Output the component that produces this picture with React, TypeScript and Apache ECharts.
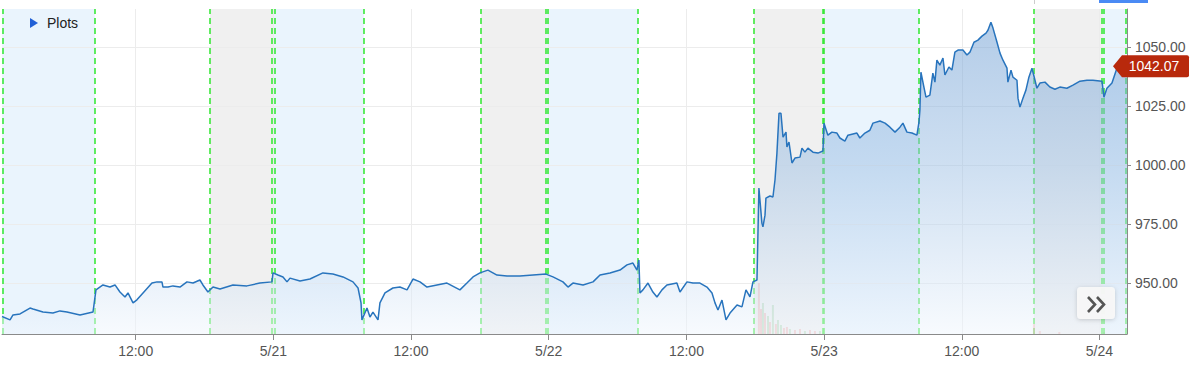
import React, { useEffect, useRef } from 'react';
import * as echarts from 'echarts';

// time in hours from 5/20 00:00
const priceHours = [
  0.35, 1.05, 1.31, 1.92, 2.79, 3.05, 3.92, 4.79, 5.4, 6.01, 7.15, 8.28, 8.54, 9.15, 9.76, 10.2, 10.63, 11.07, 11.33, 11.77,
  12.11, 12.64, 13.42, 13.86, 14.29, 14.38, 14.82, 15.25, 15.86, 16.47, 17.0, 17.6, 17.86, 18.3, 18.74, 19.35, 20.48, 21.7, 22.83, 23.88,
  23.97, 24.4, 24.84, 25.19, 25.45, 26.32, 27.19, 28.32, 29.19, 30.07, 30.94, 31.38, 31.64, 31.72, 32.16, 32.42, 32.68, 33.12, 33.29, 33.73,
  34.42, 35.03, 35.65, 36.17, 36.78, 37.39, 38.26, 39.13, 40.26, 40.87, 41.4, 42.01, 42.7, 43.49, 44.36, 45.49, 46.63, 47.76, 48.37, 49.24,
  49.68, 50.11, 50.99, 51.86, 52.47, 53.34, 54.21, 54.82, 55.34, 55.69, 55.86, 55.95, 56.21, 56.65, 57.08, 57.43, 57.87, 58.3, 59.17, 59.44,
  60.05, 60.57, 61.18, 61.79, 62.23, 62.49, 62.75, 63.1, 63.45, 63.8, 64.41, 64.84, 65.19, 65.54, 65.8, 66.15, 66.32, 66.58, 66.67, 66.85,
  66.93, 67.28, 67.54, 67.72, 67.89, 68.07, 68.24, 68.42, 68.68, 68.76, 68.94, 69.2, 69.46, 69.9, 70.07, 70.33, 70.59, 71.03, 71.46, 71.9,
  71.99, 72.33, 72.68, 73.12, 73.38, 73.81, 74.08, 74.86, 75.12, 75.56, 75.99, 76.26, 76.87, 77.31, 77.74, 78.18, 78.61, 78.87, 79.22, 79.66,
  80.09, 80.27, 80.35, 80.44, 80.7, 80.88, 81.22, 81.48, 81.66, 81.83, 82.09, 82.36, 82.53, 82.88, 83.14, 83.4, 83.67, 84.1, 84.45, 84.71,
  85.06, 85.41, 85.76, 86.11, 86.28, 86.54, 86.72, 87.07, 87.33, 87.59, 87.94, 88.02, 88.29, 88.46, 88.81, 88.9, 89.07, 89.33, 89.59, 89.85,
  90.12, 90.38, 90.55, 90.81, 91.25, 91.68, 92.12, 92.55, 93.16, 93.69, 94.3, 94.91, 95.43, 96.22, 96.39, 96.65, 97.09, 97.52, 97.78, 98.13,
  98.4,
];
const priceValues = [
  935.9, 934.5, 936.6, 937.0, 939.5, 939.1, 937.8, 937.4, 938.3, 937.8, 936.6, 937.8, 947.2, 949.3, 948.4, 949.3, 946.3, 944.2, 945.9, 941.7,
  943.0, 945.9, 950.1, 950.6, 950.6, 948.4, 948.4, 948.9, 948.4, 950.6, 950.1, 951.4, 949.3, 946.3, 948.4, 947.6, 949.3, 948.9, 950.1, 950.6,
  954.4, 953.5, 952.7, 950.6, 952.2, 951.0, 951.8, 954.4, 953.9, 952.7, 950.6, 948.0, 941.7, 934.5, 939.5, 935.7, 937.8, 934.5, 941.7, 945.9,
  948.0, 948.4, 947.2, 951.8, 950.6, 948.4, 949.3, 950.1, 947.2, 950.1, 952.7, 954.4, 955.6, 953.5, 953.1, 953.1, 953.5, 953.9, 952.7, 950.6,
  948.4, 950.1, 949.3, 950.6, 953.5, 954.4, 955.6, 957.8, 958.6, 955.6, 959.9, 945.9, 947.2, 950.1, 946.3, 944.2, 947.2, 949.3, 950.1, 946.3,
  950.6, 950.1, 950.1, 948.4, 945.9, 941.7, 938.7, 942.9, 934.5, 937.4, 940.8, 940.0, 947.2, 944.2, 950.6, 951.4, 990.4, 975.5, 973.9, 978.9,
  986.1, 987.0, 986.6, 993.8, 1005.2, 1022.1, 1022.1, 1012.0, 1014.1, 1007.8, 1009.9, 1001.0, 1003.1, 1003.5, 1007.3, 1005.6, 1007.3, 1005.6, 1005.2, 1006.1,
  1017.9, 1012.8, 1014.1, 1013.7, 1011.6, 1010.3, 1012.8, 1013.7, 1011.6, 1013.7, 1014.9, 1017.9, 1018.8, 1017.9, 1016.2, 1014.1, 1016.2, 1017.9, 1014.1, 1013.7,
  1012.8, 1018.3, 1023.4, 1039.5, 1033.2, 1028.9, 1029.8, 1039.1, 1035.3, 1044.6, 1042.5, 1045.5, 1038.3, 1041.7, 1040.4, 1048.0, 1048.9, 1048.9, 1046.8, 1048.0,
  1052.2, 1053.1, 1054.8, 1056.1, 1057.3, 1060.7, 1058.2, 1052.2, 1047.6, 1044.6, 1041.2, 1035.3, 1040.4, 1037.4, 1036.1, 1028.5, 1024.7, 1028.5, 1031.9, 1037.4,
  1041.2, 1036.1, 1032.7, 1034.9, 1035.3, 1033.2, 1032.3, 1033.2, 1032.7, 1034.0, 1035.7, 1036.1, 1036.1, 1035.7, 1028.9, 1032.7, 1034.9, 1041.2, 1039.5, 1041.2,
  1042.07,
];

const volumeHours = [66.32, 66.5, 66.67, 66.85, 67.11, 67.28, 67.54, 67.8, 67.98, 68.24, 68.5, 68.76, 69.02, 69.46, 69.9, 70.33, 70.77, 71.2, 71.64, 90.29, 90.8, 92.5, 96.4];
const volumeValues = [5.1, 2.5, 3.1, 2.1, 1.8, 1.2, 2.9, 1.0, 1.4, 0.9, 0.6, 0.7, 0.5, 0.4, 0.5, 0.3, 0.4, 0.3, 0.3, 1.0, 0.3, 0.2, 0.2];
const volumeUp = [false, false, true, false, true, false, true, false, true, true, false, false, true, false, false, true, false, false, true, false, false, false, true];

const tickHours = [12, 24, 36, 48, 60, 72, 84, 96];
const tickLabels = ['12:00', '5/21', '12:00', '5/22', '12:00', '5/23', '12:00', '5/24'];
const yTicks = [950, 975, 1000, 1025, 1050];

const sessionLines = [0.44, 8.45, 18.48, 23.88, 24.08, 31.9, 42.1, 47.7, 47.88, 55.78, 65.89, 71.86, 72.0, 80.27, 90.29, 96.24, 96.38, 98.33];
const blueBands = [[0.35, 8.45], [23.97, 31.9], [47.76, 55.78], [71.9, 80.27], [96.3, 98.4]];
const grayBands = [[18.48, 23.97], [42.1, 47.76], [65.89, 71.9], [90.29, 96.3]];

const FONT = '"Liberation Sans", Arial, sans-serif';

export default function App() {
  const ref = useRef<HTMLDivElement>(null);
  useEffect(() => {
    if (!ref.current) return;
    const chart = echarts.init(ref.current, undefined, { renderer: 'svg' });
    const lastIdx = priceValues.length - 1;
    const bandData: any[] = [];
    blueBands.forEach(([a, b]) => bandData.push([{ xAxis: a, itemStyle: { color: '#eaf4fd' } }, { xAxis: b }]));
    grayBands.forEach(([a, b]) => bandData.push([{ xAxis: a, itemStyle: { color: '#f0f0f0' } }, { xAxis: b }]));

    chart.setOption({
      animation: false,
      backgroundColor: '#ffffff',
      grid: { left: 2, right: 67, top: 9, bottom: 39 },
      xAxis: {
        type: 'value',
        min: 0.35,
        max: 98.4,
        axisLine: { show: true, lineStyle: { color: '#8a8a8a', width: 1 } },
        axisTick: { show: true, length: 6, customValues: tickHours, lineStyle: { color: '#8a8a8a' } },
        axisLabel: {
          customValues: tickHours,
          margin: 10,
          color: '#555',
          fontSize: 14,
          fontFamily: FONT,
          formatter: (v: number) => {
            const i = tickHours.indexOf(Math.round(v));
            return i >= 0 ? tickLabels[i] : '';
          },
        },
        splitLine: { show: true, lineStyle: { color: '#ececec', width: 1 } },
      },
      yAxis: [
        {
          type: 'value',
          position: 'right',
          min: 928.5,
          max: 1066.3,
          axisLine: { show: true, lineStyle: { color: '#8a8a8a', width: 1 } },
          axisTick: { show: true, length: 4, customValues: yTicks, lineStyle: { color: '#8a8a8a' } },
          axisLabel: {
            customValues: yTicks,
            margin: 8,
            color: '#555',
            fontSize: 14,
            fontFamily: FONT,
            formatter: (v: number) => v.toFixed(2),
          },
          splitLine: { show: true, lineStyle: { color: '#ececec', width: 1 } },
        },
        { type: 'value', min: 0, max: 32.5, show: false },
      ],
      series: [
        {
          type: 'line',
          name: 'sessions',
          data: [],
          silent: true,
          markArea: { silent: true, z: -1, data: bandData },
          markLine: {
            silent: true,
            z: 1,
            symbol: ['none', 'none'],
            label: { show: false },
            lineStyle: { color: '#2ee82e', type: [6, 4], width: 1.5 },
            data: sessionLines.map((h) => ({ xAxis: h })),
          },
        },
        {
          type: 'bar',
          name: 'volume',
          yAxisIndex: 1,
          barWidth: 2,
          z: 1,
          silent: true,
          data: volumeHours.map((h, i) => ({
            value: [h, volumeValues[i]],
            itemStyle: { color: volumeUp[i] ? 'rgba(76,175,80,0.3)' : 'rgba(239,83,80,0.3)' },
          })),
        },
        {
          type: 'line',
          name: 'price',
          z: 2,
          showSymbol: false,
          symbol: 'none',
          data: priceHours.map((h, i) => [h, priceValues[i]]),
          lineStyle: { color: '#2874bd', width: 1.5 },
          areaStyle: {
            color: new echarts.graphic.LinearGradient(0, 9, 0, 334, [
              { offset: 0, color: 'rgba(108,156,210,0.76)' },
              { offset: 0.48, color: 'rgba(158,192,228,0.72)' },
              { offset: 1, color: 'rgba(240,246,253,0.72)' },
            ], true),
          },
          markPoint: {
            silent: true,
            z: 10,
            symbol: 'path://M0,11 L9,0 L74,0 Q76,0 76,2 L76,20 Q76,22 74,22 L9,22 Z',
            symbolSize: [76, 22],
            symbolOffset: [24, 0],
            itemStyle: { color: '#b8290c' },
            label: {
              show: true,
              position: 'inside',
              color: '#ffffff',
              fontSize: 14,
              fontFamily: FONT,
              offset: [3, 0],
              formatter: (p: any) => Number(p.value).toFixed(2),
            },
            data: [{ coord: [priceHours[lastIdx], priceValues[lastIdx]], value: priceValues[lastIdx] }],
          },
        },
      ],
      graphic: [
        { type: 'polygon', shape: { points: [[30, 18], [38, 23], [30, 28]] }, style: { fill: '#2160d6' }, z: 100 },
        { type: 'text', x: 47, y: 23, style: { text: 'Plots', fill: '#222', font: '14px ' + FONT, textVerticalAlign: 'middle' }, z: 100 },
        { type: 'rect', shape: { x: 1099, y: 0, width: 49, height: 3 }, style: { fill: '#4a8af4' }, z: 100 },
        { type: 'line', shape: { x1: 1034.5, y1: 0, x2: 1034.5, y2: 4 }, style: { stroke: '#cccccc', lineWidth: 1 }, z: 100 },
        {
          type: 'rect',
          shape: { x: 1077, y: 287, width: 38, height: 32, r: 4 },
          style: { fill: 'rgba(248,248,248,0.96)', shadowBlur: 4, shadowColor: 'rgba(0,0,0,0.18)', shadowOffsetY: 1 },
          z: 100,
        },
        { type: 'polyline', shape: { points: [[1088, 297], [1095, 304.5], [1088, 312]] }, style: { stroke: '#555', lineWidth: 2.6, fill: null }, z: 101 },
        { type: 'polyline', shape: { points: [[1097, 297], [1104, 304.5], [1097, 312]] }, style: { stroke: '#555', lineWidth: 2.6, fill: null }, z: 101 },
      ],
    });
    return () => chart.dispose();
  }, []);
  return (
    <div
      ref={ref}
      style={{ position: 'fixed', left: 0, top: 0, width: 1194, height: 373, background: '#fff' }}
    />
  );
}
